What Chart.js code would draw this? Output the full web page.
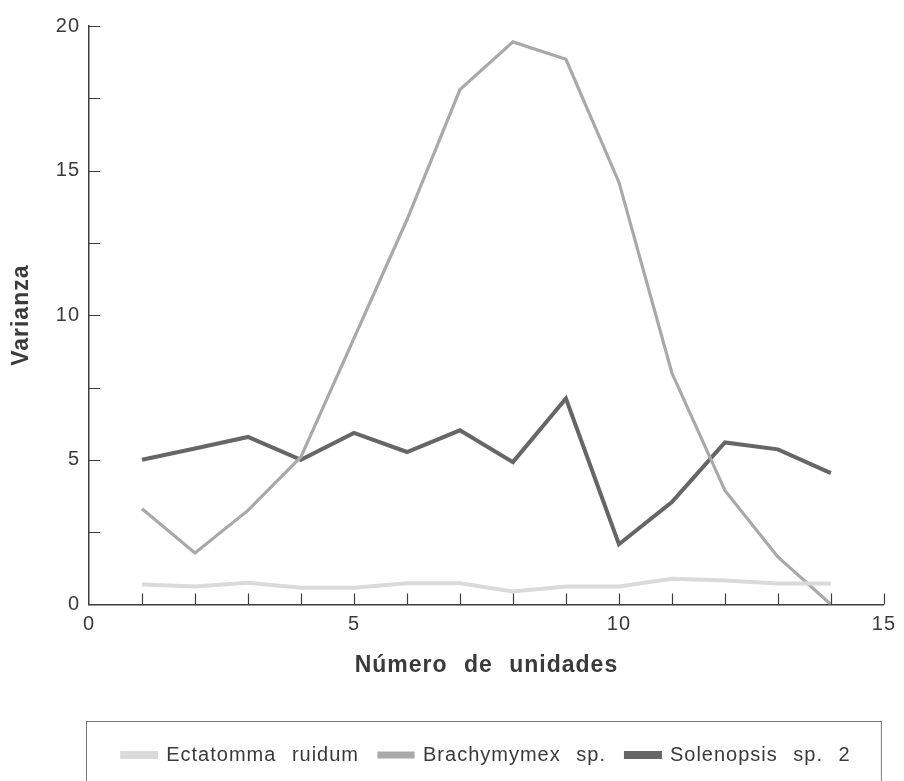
<!DOCTYPE html>
<html>
<head>
<meta charset="utf-8">
<script src="https://cdn.jsdelivr.net/npm/chart.js@4.4.1/dist/chart.umd.min.js"></script>
<style>
    html, body { margin: 0; padding: 0; background: #fff; }
    canvas { display: block; }
</style>
</head>
<body>
<canvas id="varianzaChart" width="904" height="781"></canvas>
<script>

/* Data */

const unidades = [1, 2, 3, 4, 5, 6, 7, 8, 9, 10, 11, 12, 13, 14];

const ectatomma   = [0.69, 0.62, 0.75, 0.58, 0.58, 0.73, 0.73, 0.45, 0.62, 0.62, 0.89, 0.83, 0.72, 0.72];
const brachymymex = [3.31, 1.78, 3.25, 5.1, 9.2, 13.3, 17.8, 19.45, 18.85, 14.6, 8.0, 3.94, 1.64, 0.0];
const solenopsis  = [5.0, 5.39, 5.79, 5.0, 5.93, 5.27, 6.02, 4.92, 7.12, 2.08, 3.54, 5.6, 5.36, 4.54];

const seriesNames = ["Ectatomma ruidum", "Brachymymex sp.", "Solenopsis sp. 2"];

const xTickLabels = [0, 5, 10, 15];
const yTickLabels = [0, 5, 10, 15, 20];

const axisColor = "#3c3c3c";
const textColor = "#3a3a3a";
const fontFamily = "'Liberation Sans', Arial, Helvetica, sans-serif";

const toPoints = values => unidades.map((u, i) => ({ x: u, y: values[i] }));

/* text spacing like the printed figure */

const textSpacing = {
    id: "textSpacing",
    beforeUpdate(chart) {
        chart.ctx.letterSpacing = "1px";
        chart.ctx.wordSpacing = "9px";
    },
    beforeDraw(chart) {
        chart.ctx.letterSpacing = "1px";
        chart.ctx.wordSpacing = "9px";
    }
};

/* inner tick marks + legend frame */

const innerTicks = {
    id: "innerTicks",
    afterDraw(chart) {
        const { ctx, chartArea, scales: { x, y } } = chart;

        ctx.save();
        ctx.strokeStyle = axisColor;
        ctx.lineWidth = 1.2;
        ctx.beginPath();

        x.ticks.forEach(t => {
            if (t.value === 0) return;
            const px = Math.round(x.getPixelForValue(t.value)) + 0.5;
            ctx.moveTo(px, chartArea.bottom);
            ctx.lineTo(px, chartArea.bottom - 11);
        });

        y.ticks.forEach(t => {
            if (t.value === 0) return;
            const py = Math.round(y.getPixelForValue(t.value)) + 0.5;
            ctx.moveTo(chartArea.left, py);
            ctx.lineTo(chartArea.left + 11, py);
        });

        ctx.stroke();

        const lg = chart.legend;
        ctx.strokeStyle = "#777";
        ctx.lineWidth = 1;
        ctx.strokeRect(lg.left - 2.5, lg.top - 3.5, lg.right - lg.left, lg.height + 40);

        ctx.restore();
    }
};

new Chart(document.getElementById("varianzaChart"), {
    type: "line",
    data: {
        datasets: [
            {
                label: seriesNames[0],
                data: toPoints(ectatomma),
                borderColor: "#dadada",
                backgroundColor: "#dadada",
                borderWidth: 4
            },
            {
                label: seriesNames[1],
                data: toPoints(brachymymex),
                borderColor: "#a9a9a9",
                backgroundColor: "#a9a9a9",
                borderWidth: 3.2
            },
            {
                label: seriesNames[2],
                data: toPoints(solenopsis),
                borderColor: "#666666",
                backgroundColor: "#666666",
                borderWidth: 4
            }
        ]
    },
    options: {
        responsive: false,
        devicePixelRatio: 1,
        animation: false,
        layout: {
            padding: { top: 26, left: 8, right: 15, bottom: 6 }
        },
        elements: {
            point: { radius: 0 },
            line: { tension: 0, borderJoinStyle: "miter" }
        },
        scales: {
            x: {
                type: "linear",
                min: 0,
                max: 15,
                grid: { display: false, drawTicks: false },
                border: { display: true, color: axisColor, width: 1.5 },
                ticks: {
                    stepSize: 1,
                    autoSkip: false,
                    maxRotation: 0,
                    padding: 8,
                    color: textColor,
                    font: { family: fontFamily, size: 20 },
                    callback: v => xTickLabels.includes(v) ? String(v) : ""
                },
                title: {
                    display: true,
                    text: "Número de unidades",
                    color: textColor,
                    font: { family: fontFamily, size: 23, weight: "bold" },
                    padding: { top: 7, bottom: 46 }
                }
            },
            y: {
                min: 0,
                max: 20,
                grid: { display: false, drawTicks: false },
                border: { display: true, color: axisColor, width: 1.5 },
                ticks: {
                    stepSize: 2.5,
                    autoSkip: false,
                    padding: 9,
                    color: textColor,
                    font: { family: fontFamily, size: 20 },
                    callback: v => yTickLabels.includes(v) ? String(v) : ""
                },
                title: {
                    display: true,
                    text: "Varianza",
                    color: textColor,
                    font: { family: fontFamily, size: 23, weight: "bold" },
                    padding: { top: 0, bottom: 20 }
                },
                afterFit(scale) {
                    scale.width = 81;
                }
            }
        },
        plugins: {
            legend: {
                position: "bottom",
                fullSize: false,
                align: "center",
                labels: {
                    boxWidth: 34,
                    boxHeight: 4,
                    padding: 20,
                    color: textColor,
                    font: { family: fontFamily, size: 20 }
                }
            },
            tooltip: { enabled: false }
        }
    },
    plugins: [textSpacing, innerTicks]
});

</script>
</body>
</html>
